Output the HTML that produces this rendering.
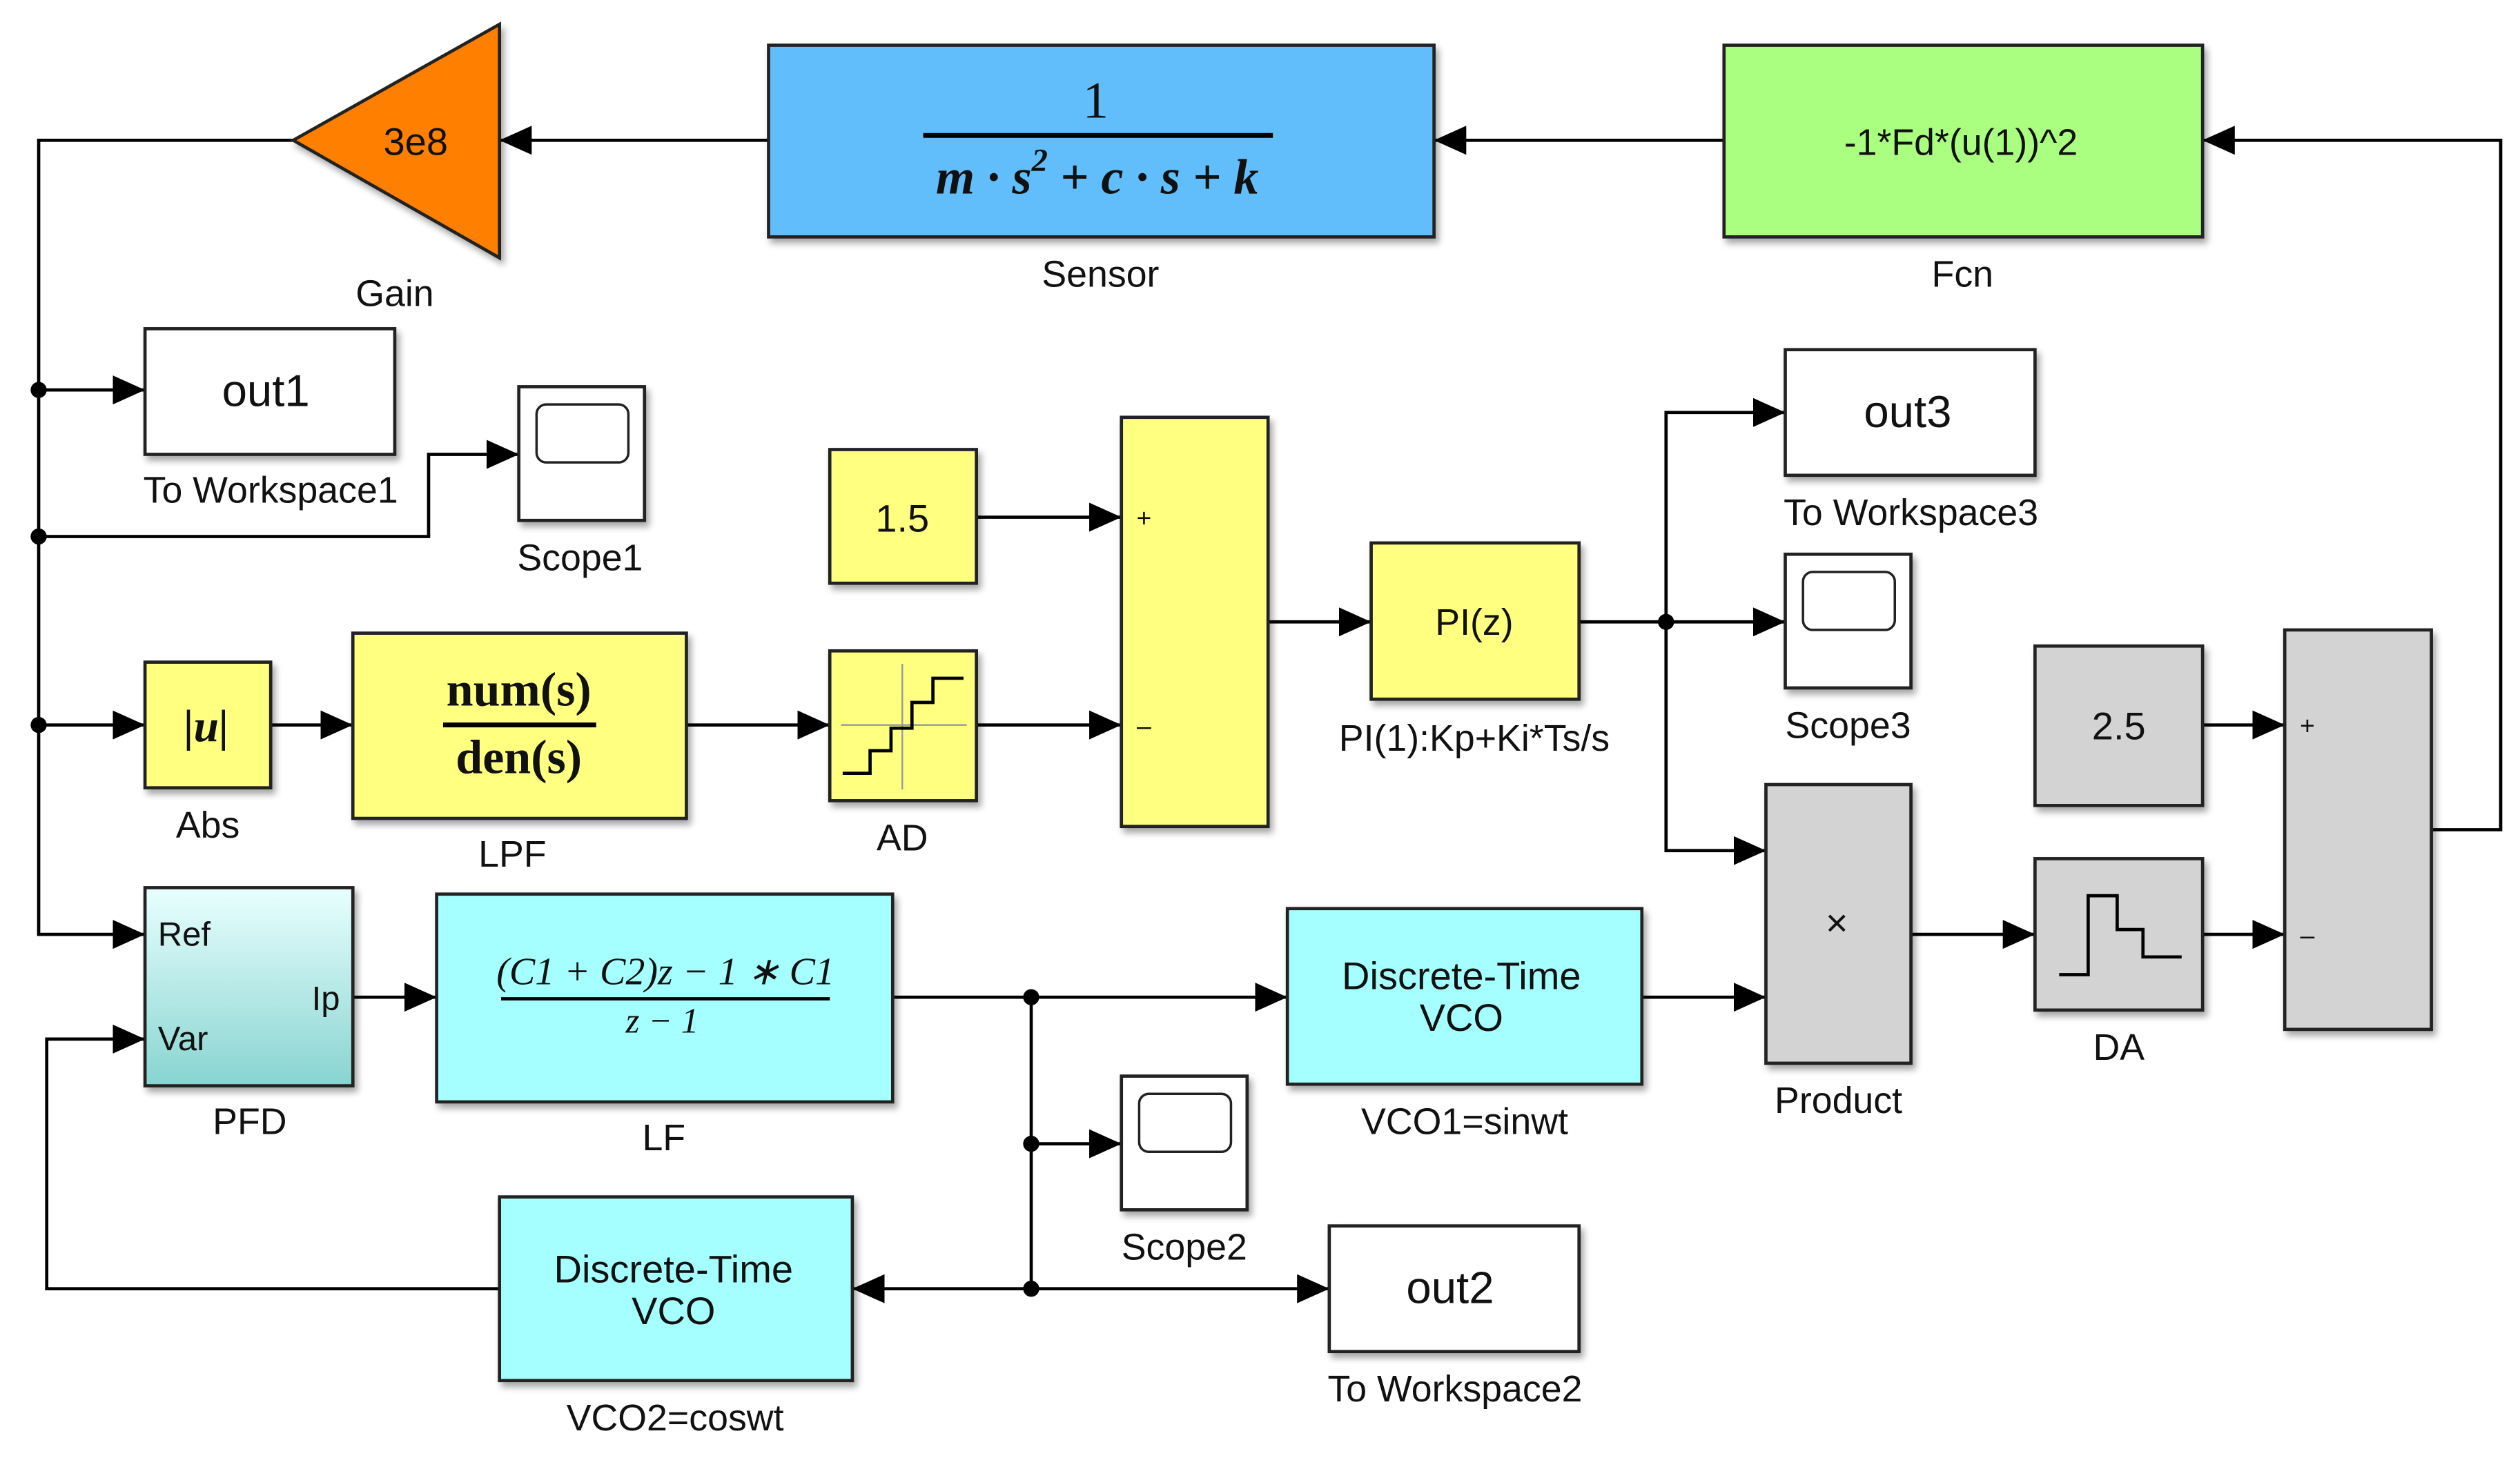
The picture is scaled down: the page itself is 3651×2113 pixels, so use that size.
<!DOCTYPE html>
<html><head><meta charset="utf-8"><style>
html,body{margin:0;padding:0;background:#fff;}
svg{display:block;}
text{font-family:"Liberation Sans",sans-serif;fill:#111;}
.lbl{font-size:23px;text-anchor:middle;}
.blk{stroke:#222;stroke-width:2;}
.w{fill:none;stroke:#000;stroke-width:2;}
.serif{font-family:"Liberation Serif",serif;}
</style></head><body>
<svg width="3651" height="2113" viewBox="0 0 1564 905" xmlns="http://www.w3.org/2000/svg">
<defs>
<marker id="a" markerUnits="userSpaceOnUse" markerWidth="20" markerHeight="20" refX="20" refY="9" orient="auto"><path d="M0,0 L20,9 L0,18 z" fill="#000"/></marker>
<linearGradient id="pfd" x1="0" y1="0" x2="0" y2="1"><stop offset="0" stop-color="#e8ffff"/><stop offset="1" stop-color="#88d4d0"/></linearGradient>
<filter id="sh" x="-5%" y="-5%" width="115%" height="115%"><feDropShadow dx="2" dy="3" stdDeviation="2" flood-color="#000" flood-opacity="0.35"/></filter>
</defs>

<!-- wires -->
<g class="w">
<path d="M1070,87 H890" marker-end="url(#a)"/>
<path d="M477,87 H310" marker-end="url(#a)"/>
<path d="M182,87 H24 V580 H90" marker-end="url(#a)"/>
<path d="M1509,515 H1552 V87 H1367" marker-end="url(#a)"/>
<path d="M24,242 H90" marker-end="url(#a)"/>
<path d="M24,333 H266 V282 H322" marker-end="url(#a)"/>
<path d="M24,450 H90" marker-end="url(#a)"/>
<path d="M168,450 H219" marker-end="url(#a)"/>
<path d="M426,450 H515" marker-end="url(#a)"/>
<path d="M606,321 H696" marker-end="url(#a)"/>
<path d="M606,450 H696" marker-end="url(#a)"/>
<path d="M787,386 H851" marker-end="url(#a)"/>
<path d="M980,386 H1108" marker-end="url(#a)"/>
<path d="M1034,386 V256 H1108" marker-end="url(#a)"/>
<path d="M1034,386 V528 H1096" marker-end="url(#a)"/>
<path d="M1367,450 H1418" marker-end="url(#a)"/>
<path d="M1186,580 H1263" marker-end="url(#a)"/>
<path d="M1367,580 H1418" marker-end="url(#a)"/>
<path d="M219,619 H271" marker-end="url(#a)"/>
<path d="M554,619 H799" marker-end="url(#a)"/>
<path d="M1019,619 H1096" marker-end="url(#a)"/>
<path d="M640,619 V800"/>
<path d="M640,710 H696" marker-end="url(#a)"/>
<path d="M640,800 H825" marker-end="url(#a)"/>
<path d="M640,800 H529" marker-end="url(#a)"/>
<path d="M310,800 H29 V645 H90" marker-end="url(#a)"/>
</g>
<g fill="#000">
<circle cx="24" cy="242" r="5"/><circle cx="24" cy="333" r="5"/><circle cx="24" cy="450" r="5"/>
<circle cx="1034" cy="386" r="5"/><circle cx="640" cy="619" r="5"/><circle cx="640" cy="710" r="5"/><circle cx="640" cy="800" r="5"/>
</g>

<!-- Gain -->
<polygon points="182,87 310,15 310,160" fill="#ff8000" class="blk" filter="url(#sh)"/>
<text x="258" y="96" font-size="24" text-anchor="middle">3e8</text>
<text class="lbl" x="245" y="190">Gain</text>

<!-- Sensor -->
<rect x="477" y="28" width="413" height="119" fill="#62bdfb" class="blk" filter="url(#sh)"/>
<text class="serif" x="680" y="73" font-size="32" text-anchor="middle">1</text>
<line x1="573" y1="84" x2="790" y2="84" stroke="#000" stroke-width="3"/>
<text class="serif" x="681" y="120" font-size="31" font-style="italic" font-weight="bold" text-anchor="middle">m · s<tspan font-size="20" dy="-14">2</tspan><tspan dy="14"> + c · s + k</tspan></text>
<text class="lbl" x="683" y="178">Sensor</text>

<!-- Fcn -->
<rect x="1070" y="28" width="297" height="119" fill="#aaff80" class="blk" filter="url(#sh)"/>
<text x="1217" y="96" font-size="23" text-anchor="middle">-1*Fd*(u(1))^2</text>
<text class="lbl" x="1218" y="178">Fcn</text>

<!-- out1 -->
<rect x="90" y="204" width="155" height="78" fill="#fff" class="blk" filter="url(#sh)"/>
<text x="165" y="252" font-size="28" text-anchor="middle">out1</text>
<text class="lbl" x="168" y="312">To Workspace1</text>

<!-- Scope1 -->
<rect x="322" y="240" width="78" height="83" fill="#fff" class="blk" filter="url(#sh)"/>
<rect x="333" y="251" width="57" height="36" rx="6" fill="#fff" stroke="#222" stroke-width="1.5"/>
<text class="lbl" x="360" y="354">Scope1</text>

<!-- Abs -->
<rect x="90" y="411" width="78" height="78" fill="#ffff80" class="blk" filter="url(#sh)"/>
<text class="serif" x="128" y="460" font-size="28" font-style="italic" font-weight="bold" text-anchor="middle">|u|</text>
<text class="lbl" x="129" y="520">Abs</text>

<!-- LPF -->
<rect x="219" y="393" width="207" height="115" fill="#ffff80" class="blk" filter="url(#sh)"/>
<text class="serif" x="322" y="438" font-size="30" font-weight="bold" text-anchor="middle">num(s)</text>
<line x1="275" y1="450" x2="370" y2="450" stroke="#000" stroke-width="3"/>
<text class="serif" x="322" y="480" font-size="30" font-weight="bold" text-anchor="middle">den(s)</text>
<text class="lbl" x="318" y="538">LPF</text>

<!-- AD -->
<rect x="515" y="404" width="91" height="93" fill="#ffff80" class="blk" filter="url(#sh)"/>
<line x1="560" y1="412" x2="560" y2="490" stroke="#999" stroke-width="1"/>
<line x1="522" y1="450" x2="600" y2="450" stroke="#999" stroke-width="1"/>
<path d="M523,480 H540 V466 H553 V452 H566 V436 H579 V421 H598" fill="none" stroke="#000" stroke-width="2"/>
<text class="lbl" x="560" y="528">AD</text>

<!-- 1.5 -->
<rect x="515" y="279" width="91" height="83" fill="#ffff80" class="blk" filter="url(#sh)"/>
<text x="560" y="330" font-size="24" text-anchor="middle">1.5</text>

<!-- Sum1 -->
<rect x="696" y="259" width="91" height="254" fill="#ffff80" class="blk" filter="url(#sh)"/>
<text x="710" y="327" font-size="16" text-anchor="middle" fill="#555">+</text>
<text x="710" y="456" font-size="16" text-anchor="middle" fill="#555">–</text>

<!-- PI -->
<rect x="851" y="337" width="129" height="97" fill="#ffff80" class="blk" filter="url(#sh)"/>
<text x="915" y="394" font-size="23" text-anchor="middle">PI(z)</text>
<text class="lbl" x="915" y="466">PI(1):Kp+Ki*Ts/s</text>

<!-- out3 -->
<rect x="1108" y="217" width="155" height="78" fill="#fff" class="blk" filter="url(#sh)"/>
<text x="1184" y="265" font-size="28" text-anchor="middle">out3</text>
<text class="lbl" x="1186" y="326">To Workspace3</text>

<!-- Scope3 -->
<rect x="1108" y="344" width="78" height="83" fill="#fff" class="blk" filter="url(#sh)"/>
<rect x="1119" y="355" width="57" height="36" rx="6" fill="#fff" stroke="#222" stroke-width="1.5"/>
<text class="lbl" x="1147" y="458">Scope3</text>

<!-- 2.5 -->
<rect x="1263" y="401" width="104" height="99" fill="#d3d3d3" class="blk" filter="url(#sh)"/>
<text x="1315" y="459" font-size="24" text-anchor="middle">2.5</text>

<!-- Sum2 -->
<rect x="1418" y="391" width="91" height="248" fill="#d3d3d3" class="blk" filter="url(#sh)"/>
<text x="1432" y="456" font-size="16" text-anchor="middle" fill="#555">+</text>
<text x="1432" y="586" font-size="16" text-anchor="middle" fill="#555">–</text>

<!-- Product -->
<rect x="1096" y="487" width="90" height="173" fill="#d3d3d3" class="blk" filter="url(#sh)"/>
<text x="1140" y="581" font-size="24" text-anchor="middle" fill="#333">×</text>
<text class="lbl" x="1141" y="691">Product</text>

<!-- DA -->
<rect x="1263" y="533" width="104" height="94" fill="#d3d3d3" class="blk" filter="url(#sh)"/>
<path d="M1278,605 H1296 V556 H1314 V577 H1330 V594 H1354" fill="none" stroke="#000" stroke-width="2"/>
<text class="lbl" x="1315" y="658">DA</text>

<!-- PFD -->
<rect x="90" y="551" width="129" height="123" fill="url(#pfd)" class="blk" filter="url(#sh)"/>
<text x="98" y="587" font-size="21">Ref</text>
<text x="98" y="652" font-size="21">Var</text>
<text x="211" y="627" font-size="21" text-anchor="end">Ip</text>
<text class="lbl" x="155" y="704">PFD</text>

<!-- LF -->
<rect x="271" y="555" width="283" height="129" fill="#a6ffff" class="blk" filter="url(#sh)"/>
<text class="serif" x="413" y="611" font-size="24" font-style="italic" text-anchor="middle">(C1 + C2)z − 1 ∗ C1</text>
<line x1="311" y1="620" x2="515" y2="620" stroke="#000" stroke-width="2"/>
<text class="serif" x="411" y="641" font-size="22" font-style="italic" text-anchor="middle">z − 1</text>
<text class="lbl" x="412" y="714">LF</text>

<!-- VCO1 -->
<rect x="799" y="564" width="220" height="109" fill="#a6ffff" class="blk" filter="url(#sh)"/>
<text x="907" y="614" font-size="24" text-anchor="middle">Discrete-Time</text>
<text x="907" y="640" font-size="24" text-anchor="middle">VCO</text>
<text class="lbl" x="909" y="704">VCO1=sinwt</text>

<!-- Scope2 -->
<rect x="696" y="668" width="78" height="83" fill="#fff" class="blk" filter="url(#sh)"/>
<rect x="707" y="679" width="57" height="36" rx="6" fill="#fff" stroke="#222" stroke-width="1.5"/>
<text class="lbl" x="735" y="782">Scope2</text>

<!-- out2 -->
<rect x="825" y="761" width="155" height="78" fill="#fff" class="blk" filter="url(#sh)"/>
<text x="900" y="809" font-size="28" text-anchor="middle">out2</text>
<text class="lbl" x="903" y="870">To Workspace2</text>

<!-- VCO2 -->
<rect x="310" y="743" width="219" height="114" fill="#a6ffff" class="blk" filter="url(#sh)"/>
<text x="418" y="796" font-size="24" text-anchor="middle">Discrete-Time</text>
<text x="418" y="822" font-size="24" text-anchor="middle">VCO</text>
<text class="lbl" x="419" y="888">VCO2=coswt</text>
</svg>
</body></html>
